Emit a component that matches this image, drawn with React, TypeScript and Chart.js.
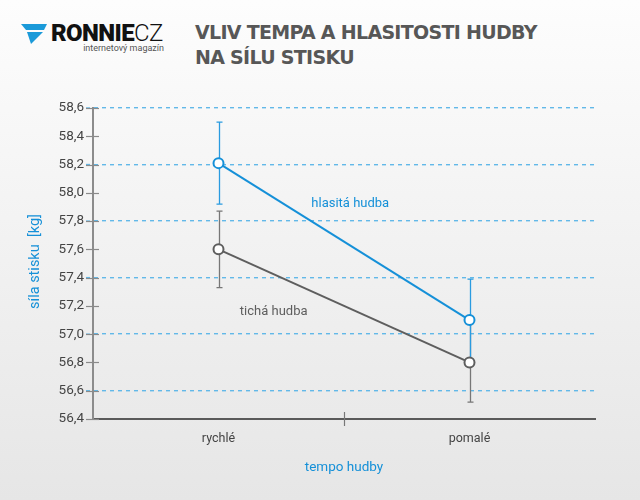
import React, { useEffect, useRef } from "react";
import { Chart, registerables } from "chart.js";

Chart.register(...registerables);

const categories = ["rychlé", "pomalé"];
const loudValues = [58.21, 57.1];
const loudErrors = [0.29, 0.29];
const quietValues = [57.6, 56.8];
const quietErrors = [0.27, 0.28];
const yMin = 56.4;
const yMax = 58.6;
const yStep = 0.2;

const BLUE = "#1590d8";
const GREY = "#5e5e5e";
const GRID_BLUE = "#62b8e8";
const FONT = "Roboto, 'Liberation Sans', Arial, sans-serif";

const fmt = (v: number) => v.toFixed(1).replace(".", ",");

const errorBarPlugin = {
  id: "errorBars",
  beforeDatasetsDraw(chart: any) {
    const ctx = chart.ctx;
    const x = chart.scales.x;
    const y = chart.scales.y;
    const sets = [
      { vals: quietValues, errs: quietErrors, color: "#777777" },
      { vals: loudValues, errs: loudErrors, color: "#2a9be0" },
    ];
    ctx.save();
    ctx.lineWidth = 1.3;
    sets.forEach((s) => {
      ctx.strokeStyle = s.color;
      s.vals.forEach((v, i) => {
        const px = Math.round(x.getPixelForValue(i)) + 0.5;
        const top = y.getPixelForValue(v + s.errs[i]);
        const bot = y.getPixelForValue(v - s.errs[i]);
        ctx.beginPath();
        ctx.moveTo(px, top);
        ctx.lineTo(px, bot);
        ctx.moveTo(px - 3, top);
        ctx.lineTo(px + 3, top);
        ctx.moveTo(px - 3, bot);
        ctx.lineTo(px + 3, bot);
        ctx.stroke();
      });
    });
    ctx.restore();
  },
};

const decorPlugin = {
  id: "decor",
  beforeDatasetsDraw(chart: any) {
    // extend dashed grid lines a little left of the axis
    const ctx = chart.ctx;
    const y = chart.scales.y;
    const area = chart.chartArea;
    ctx.save();
    ctx.strokeStyle = GRID_BLUE;
    ctx.lineWidth = 1.4;
    ctx.setLineDash([4, 4]);
    y.ticks.forEach((t: any, i: number) => {
      if (i % 2 !== 1) return;
      const py = y.getPixelForValue(t.value);
      ctx.beginPath();
      ctx.moveTo(area.left - 7, py);
      ctx.lineTo(area.left - 1, py);
      ctx.stroke();
    });
    ctx.restore();
  },
  afterDraw(chart: any) {
    const ctx = chart.ctx;
    const x = chart.scales.x;
    const y = chart.scales.y;
    const area = chart.chartArea;
    ctx.save();
    // y tick marks
    ctx.strokeStyle = "#8a8a8a";
    ctx.lineWidth = 1.2;
    y.ticks.forEach((t: any) => {
      const py = Math.round(y.getPixelForValue(t.value)) + 0.5;
      ctx.beginPath();
      ctx.moveTo(area.left - 7, py);
      ctx.lineTo(area.left + 6, py);
      ctx.stroke();
    });
    // x middle tick
    const mid = Math.round((x.getPixelForValue(0) + x.getPixelForValue(1)) / 2) + 0.5;
    ctx.strokeStyle = "#777777";
    ctx.beginPath();
    ctx.moveTo(mid, area.bottom - 7);
    ctx.lineTo(mid, area.bottom + 7);
    ctx.stroke();
    // annotations
    ctx.font = `13px ${FONT}`;
    ctx.textAlign = "center";
    ctx.textBaseline = "middle";
    ctx.fillStyle = BLUE;
    ctx.fillText("hlasitá hudba", x.getPixelForValue(0.525), y.getPixelForValue(57.92));
    ctx.fillStyle = GREY;
    ctx.fillText("tichá hudba", x.getPixelForValue(0.22), y.getPixelForValue(57.16));
    // axis titles
    ctx.fillStyle = BLUE;
    ctx.font = `13.5px ${FONT}`;
    ctx.fillText("tempo hudby", (area.left + area.right) / 2, 468);
    ctx.translate(35, (area.top + area.bottom) / 2 - 2);
    ctx.rotate(-Math.PI / 2);
    ctx.font = `14.5px ${FONT}`;
    ctx.fillText("síla stisku  [kg]", 0, 0);
    ctx.restore();
  },
};

export default function App() {
  const ref = useRef<HTMLCanvasElement>(null);
  useEffect(() => {
    document.body.style.margin = "0";
    const chart = new Chart(ref.current as HTMLCanvasElement, {
      type: "line",
      data: {
        labels: categories,
        datasets: [
          {
            label: "tichá hudba",
            data: quietValues,
            borderColor: GREY,
            backgroundColor: "#ffffff",
            borderWidth: 2,
            pointRadius: 5,
            pointBorderWidth: 2,
            pointBackgroundColor: "#ffffff",
            pointBorderColor: GREY,
          },
          {
            label: "hlasitá hudba",
            data: loudValues,
            borderColor: BLUE,
            backgroundColor: "#ffffff",
            borderWidth: 2,
            pointRadius: 5,
            pointBorderWidth: 2,
            pointBackgroundColor: "#ffffff",
            pointBorderColor: BLUE,
          },
        ],
      },
      options: {
        animation: false,
        responsive: false,
        layout: { padding: { left: 0, right: 45, top: 108, bottom: 0 } },
        plugins: { legend: { display: false }, tooltip: { enabled: false } },
        scales: {
          x: {
            offset: true,
            grid: { display: false, drawTicks: false },
            border: { display: true, color: "#5a5a5a", width: 2 },
            ticks: { color: "#444", font: { family: FONT, size: 12.5 }, padding: 12 },
            afterFit: (s: any) => {
              s.height = 81;
            },
          },
          y: {
            min: yMin,
            max: yMax,
            ticks: {
              stepSize: yStep,
              color: "#444",
              font: { family: FONT, size: 13.5 },
              padding: 9,
              callback: (v: any) => fmt(Number(v)),
            },
            border: { display: true, color: "#8c8c8c", width: 2, dash: [4, 4] },
            grid: {
              drawTicks: false,
              lineWidth: 1.4,
              color: (c: any) => (c.index % 2 === 1 ? GRID_BLUE : "rgba(0,0,0,0)"),
            },
            afterFit: (s: any) => {
              s.width = 93;
            },
          },
        },
      } as any,
      plugins: [errorBarPlugin, decorPlugin],
    });
    return () => chart.destroy();
  }, []);

  return (
    <div
      style={{
        position: "fixed",
        left: 0,
        top: 0,
        width: 640,
        height: 500,
        background: "linear-gradient(#fdfdfd, #e6e6e6)",
        fontFamily: FONT,
      }}
    >
      <svg width="30" height="24" style={{ position: "absolute", left: 19, top: 22 }}>
        <polygon points="2,2 28,2 25,8 7,8" fill="#1b9ad9" />
        <polygon points="8,10 24,10 12,22" fill="#1b9ad9" />
      </svg>
      <div
        style={{
          position: "absolute",
          left: 51,
          top: 19,
          fontSize: 24,
          lineHeight: "28px",
          letterSpacing: -0.6,
          color: "#111",
        }}
      >
        <span style={{ fontWeight: 900 }}>RONNIE</span>
        <span style={{ fontWeight: 300 }}>CZ</span>
      </div>
      <div
        style={{
          position: "absolute",
          right: 640 - 164,
          top: 43,
          fontSize: 9,
          color: "#555",
        }}
      >
        internetový magazín
      </div>
      <div
        style={{
          position: "absolute",
          left: 195,
          top: 20,
          fontSize: 19,
          lineHeight: "25px",
          fontWeight: 700,
          fontFamily: "'DejaVu Sans', sans-serif",
          color: "#575757",
          letterSpacing: -0.7,
        }}
      >
        VLIV TEMPA A HLASITOSTI HUDBY
        <br />
        NA SÍLU STISKU
      </div>
      <canvas ref={ref} width={640} height={500} style={{ position: "absolute", left: 0, top: 0 }} />
    </div>
  );
}
